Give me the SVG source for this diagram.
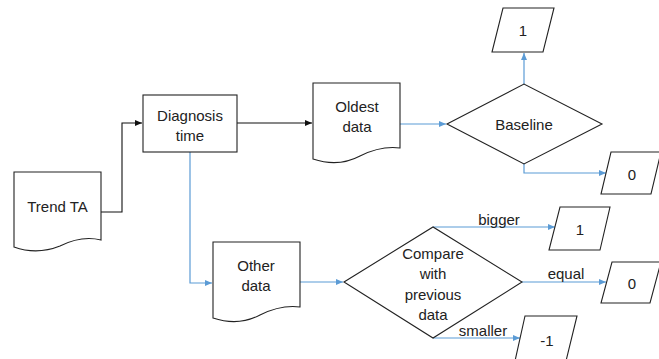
<svg xmlns="http://www.w3.org/2000/svg" width="659" height="359" viewBox="0 0 659 359">
<style>
.s{fill:#fff;stroke:#222;stroke-width:1.1}
.t{font-family:"Liberation Sans",Arial,sans-serif;font-size:15px;fill:#222;text-anchor:middle;dominant-baseline:central}
.k{fill:none;stroke:#111;stroke-width:1.1}
.b{fill:none;stroke:#5B9BD5;stroke-width:1.2}
</style>
<defs>
<marker id="ak" markerWidth="7" markerHeight="6" refX="7" refY="3" orient="auto" markerUnits="userSpaceOnUse"><path d="M0,0 L7,3 L0,6 Z" fill="#111"/></marker>
<marker id="ab" markerWidth="7" markerHeight="6" refX="7" refY="3" orient="auto" markerUnits="userSpaceOnUse"><path d="M0,0 L7,3 L0,6 Z" fill="#5B9BD5"/></marker>
</defs>
<rect width="659" height="359" fill="#fff"/>
<g id="connectors">
<path class="k" d="M101,212 H122 V123 H142" marker-end="url(#ak)"/>
<path class="k" d="M237,123 H312" marker-end="url(#ak)"/>
<path class="b" d="M400,124 H446" marker-end="url(#ab)"/>
<path class="b" d="M524,84 V53" marker-end="url(#ab)"/>
<path class="b" d="M524,164 V173 H606" marker-end="url(#ab)"/>
<path class="b" d="M190,152 V283 H212" marker-end="url(#ab)"/>
<path class="b" d="M300,282 H343" marker-end="url(#ab)"/>
<path class="b" d="M433,227 H555" marker-end="url(#ab)"/>
<path class="b" d="M522,282 H606" marker-end="url(#ab)"/>
<path class="b" d="M433,338 H520" marker-end="url(#ab)"/>
<text class="t" x="499" y="219">bigger</text>
<text class="t" x="566" y="273">equal</text>
<text class="t" x="483" y="330">smaller</text>
</g>
<g id="trend">
<path class="s" d="M14,172 H101 V240 C85,236 72,240 60,246 C45,252 28,252 14,247 Z"/>
<text class="t" x="57.5" y="206">Trend TA</text>
</g>
<g id="diagnosis">
<rect class="s" x="143" y="95" width="94" height="57"/>
<text class="t" x="190" y="115">Diagnosis</text>
<text class="t" x="190" y="135">time</text>
</g>
<g id="oldest">
<path class="s" d="M313,83 H400 V148 C384,146 372,150 360,156 C345,164 328,164 313,159 Z"/>
<text class="t" x="357" y="106">Oldest</text>
<text class="t" x="357" y="126">data</text>
</g>
<g id="baseline">
<path class="s" d="M447,124 L524,84 L602,124 L524,164 Z"/>
<text class="t" x="524" y="124">Baseline</text>
</g>
<g id="out1top">
<path class="s" d="M503,8 H554 L543,52 H492 Z"/>
<text class="t" x="523" y="30">1</text>
</g>
<g id="out0top">
<path class="s" d="M611,152 H661 L651,194 H601 Z"/>
<text class="t" x="632" y="174">0</text>
</g>
<g id="other">
<path class="s" d="M213,242 H300 V307 C284,305 272,309 260,315 C245,323 228,323 213,318 Z"/>
<text class="t" x="256" y="265">Other</text>
<text class="t" x="256" y="285">data</text>
</g>
<g id="compare">
<path class="s" d="M344,282 L433,227 L522,282 L433,338 Z"/>
<text class="t" x="433" y="253">Compare</text>
<text class="t" x="433" y="273">with</text>
<text class="t" x="433" y="294">previous</text>
<text class="t" x="433" y="314">data</text>
</g>
<g id="out1">
<path class="s" d="M560,207 H610 L600,250 H549 Z"/>
<text class="t" x="580" y="229">1</text>
</g>
<g id="out0">
<path class="s" d="M612,262 H661 L650,303 H601 Z"/>
<text class="t" x="632" y="283">0</text>
</g>
<g id="outm1">
<path class="s" d="M525,316 H577 L566,361 H515 Z"/>
<text class="t" x="547" y="340">-1</text>
</g>
</svg>
